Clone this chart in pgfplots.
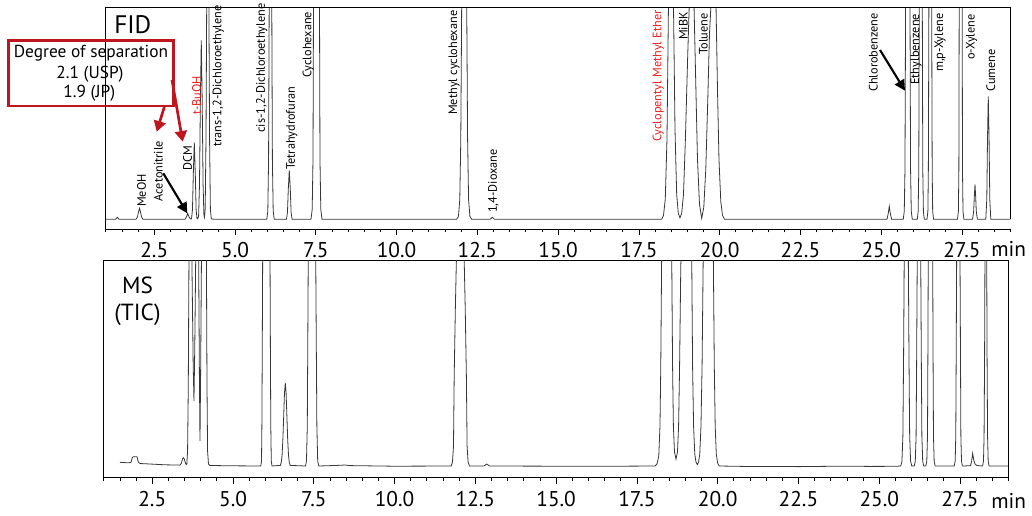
\documentclass[border=0pt]{standalone}
\usepackage{fontspec}
\setmainfont{PT Sans}
\usepackage{pgfplots}
\pgfplotsset{compat=1.18}
\usetikzlibrary{arrows.meta}
\definecolor{trace}{RGB}{55,55,55}
\definecolor{boxred}{RGB}{192,20,30}
\definecolor{lblred}{RGB}{240,30,30}
\newcommand{\lbl}{\fontsize{9.2pt}{9.2pt}\selectfont}
\newcommand{\tlbl}{\fontsize{16pt}{16pt}\selectfont}
\pgfplotsset{chrom/.style={
  scale only axis, width=678.5pt, xmin=1, xmax=29,
  ytick=\empty, xtick={2.5,5,...,27.5}, minor xtick={1,1.5,...,29},
  tick align=outside, xtick pos=left,
  major tick length=4.5pt, minor tick length=2.5pt,
  every tick/.style={black, line width=0.6pt},
  axis line style={line width=0.75pt},
  clip mode=individual,
  xticklabel style={font=\tlbl, yshift=-2pt, /pgf/number format/fixed, /pgf/number format/fixed zerofill, /pgf/number format/precision=1, /pgf/number format/assume math mode=true},
}}
\begin{document}
\begin{tikzpicture}
\useasboundingbox (0,0) rectangle (774pt,-386.25pt);
% ---------- FID ----------
\begin{axis}[chrom, at={(79.35pt,-171.75pt)}, anchor=south west,
  height=166.275pt, ymin=-9.7, ymax=212,
  axis x line*=bottom, axis y line*=left]
\addplot[trace, line width=0.6pt, mark=none] coordinates {
(1.0,0) (1.300,0) (1.356,2) (1.408,0) (1.934,0) (1.981,2.5) (2.012,7.5) (2.043,11) (2.074,7.5) (2.105,2.5) (2.151,0)
(3.451,0) (3.497,2.5) (3.535,6) (3.575,2.5) (3.615,0.5) (3.652,0.3) (3.683,10) (3.708,45) (3.739,77) (3.770,45) (3.795,10) (3.822,1) (3.844,0.5)
(3.872,3) (3.900,35) (3.928,120) (3.955,179) (3.983,120) (4.011,35) (4.036,5) (4.054,2)
(4.076,10) (4.101,80) (4.123,215) (4.157,400) (4.191,215) (4.212,80) (4.237,10) (4.265,0.5) (4.35,0)
(5.983,0) (6.014,8) (6.038,60) (6.057,215) (6.097,500) (6.137,215) (6.156,60) (6.181,8) (6.212,0)
(6.592,0) (6.623,7) (6.648,30) (6.679,49) (6.710,30) (6.735,7) (6.766,0)
(7.351,0) (7.388,10) (7.413,60) (7.428,215) (7.521,700) (7.614,215) (7.629,60) (7.654,10) (7.691,0)
(11.860,0) (11.916,3) (11.956,20) (11.987,80) (12.015,215) (12.092,600) (12.170,215) (12.198,80) (12.228,20) (12.269,3) (12.324,0)
(12.891,0) (12.962,2) (13.030,0)
(18.205,0) (18.261,4) (18.316,20) (18.369,80) (18.415,215) (18.493,350) (18.570,215) (18.617,90) (18.669,25) (18.719,6) (18.771,1.5)
(18.824,6) (18.880,25) (18.939,80) (19.007,160) (19.059,215) (19.133,350) (19.205,215) (19.257,140) (19.313,60) (19.375,15) (19.443,1)
(19.508,12) (19.570,50) (19.632,120) (19.684,185) (19.731,215) (19.808,350) (19.886,215) (19.932,130) (19.978,60) (20.034,18) (20.087,4) (20.149,0)
(25.178,0) (25.218,6) (25.249,13) (25.280,6) (25.321,0)
(25.682,0) (25.713,8) (25.735,50) (25.754,215) (25.822,500) (25.890,215) (25.908,50) (25.930,8) (25.961,0)
(26.116,0) (26.143,8) (26.162,50) (26.178,215) (26.224,500) (26.271,215) (26.286,50) (26.305,8) (26.333,0)
(26.416,0) (26.444,8) (26.459,50) (26.475,215) (26.518,500) (26.561,215) (26.577,50) (26.592,8) (26.620,0)
(27.360,0) (27.388,8) (27.403,50) (27.413,215) (27.459,500) (27.506,215) (27.515,50) (27.531,8) (27.558,0)
(27.827,0) (27.861,8) (27.880,22) (27.902,35) (27.924,22) (27.942,8) (27.976,0)
(28.236,0) (28.267,20) (28.289,80) (28.313,123) (28.338,80) (28.360,20) (28.391,0)
(29.0,0)
};
\draw[line width=0.75pt] (rel axis cs:0,1) -- (rel axis cs:1,1) -- (axis cs:29,0);
\end{axis}
% ---------- MS ----------
\begin{axis}[chrom, at={(77.85pt,-358.275pt)}, anchor=south west,
  height=162.75pt, ymin=-11.7, ymax=205.3]
\addplot[trace, line width=0.6pt, mark=none] coordinates {
(1.501,3.7) (1.749,3.2) (1.842,3.5) (1.882,8.5) (1.919,9.3) (2.027,9.3) (2.067,4) (2.120,2.5) (2.430,2.0) (2.894,1.2) (3.358,0.9)
(3.405,3) (3.435,7) (3.460,8.3) (3.491,7) (3.538,2) (3.569,1.5)
(3.593,15) (3.615,80) (3.637,215) (3.680,300) (3.723,215) (3.767,100) (3.791,65) (3.816,120) (3.847,215) (3.890,300) (3.934,215) (3.959,90) (3.977,25)
(3.996,90) (4.024,215) (4.101,350) (4.175,215) (4.194,80) (4.212,15) (4.240,2) (4.287,0.5) (5.0,0.2)
(5.859,0) (5.881,5) (5.893,40) (5.905,120) (5.918,215) (6.029,400) (6.144,215) (6.156,120) (6.168,40) (6.184,5) (6.206,0)
(6.462,0.6) (6.493,3.6) (6.518,11) (6.543,27) (6.568,50) (6.592,73) (6.617,83) (6.642,73) (6.667,50) (6.691,27) (6.716,11) (6.741,3.6) (6.772,0.6)
(7.242,0) (7.273,5) (7.298,40) (7.313,120) (7.329,215) (7.444,450) (7.558,215) (7.577,120) (7.595,40) (7.620,5) (7.654,0)
(8.310,0.7) (8.465,1) (8.620,0.4) (10.0,-0.2)
(11.752,0) (11.792,4) (11.823,20) (11.845,90) (11.882,160) (11.919,215) (12.034,400) (12.148,215) (12.185,160) (12.222,90) (12.244,20) (12.275,4) (12.318,0)
(12.767,0) (12.851,2) (12.937,0) (16.357,-0.3)
(18.060,0) (18.121,2) (18.177,10) (18.214,40) (18.239,100) (18.267,215) (18.422,400) (18.576,215) (18.604,100) (18.629,40) (18.663,14) (18.710,7)
(18.756,14) (18.790,40) (18.821,100) (18.858,200) (18.873,215) (19.028,400) (19.195,215) (19.223,100) (19.254,40) (19.291,12) (19.328,4) (19.369,1.5)
(19.409,4) (19.446,12) (19.483,40) (19.517,100) (19.554,215) (19.709,400) (19.864,215) (19.895,100) (19.923,40) (19.957,12) (19.997,3) (20.049,0)
(21.000,-0.5) (22.547,-0.6) (23.476,-0.3) (24.095,-0.2) (24.714,-0.4) (25.488,-0.3)
(25.667,0) (25.704,5) (25.732,30) (25.754,110) (25.775,215) (25.837,450) (25.899,215) (25.921,110) (25.942,30) (25.970,5) (26.007,0)
(26.085,0) (26.116,5) (26.141,30) (26.159,110) (26.178,215) (26.230,450) (26.283,215) (26.302,110) (26.320,30) (26.345,5) (26.376,0)
(26.441,0) (26.472,5) (26.494,30) (26.506,110) (26.518,215) (26.586,450) (26.654,215) (26.666,110) (26.679,30) (26.700,5) (26.731,0)
(27.323,0) (27.351,5) (27.369,30) (27.382,110) (27.397,215) (27.447,450) (27.499,215) (27.515,110) (27.527,30) (27.546,5) (27.573,0)
(27.824,0.3) (27.861,5) (27.892,12.7) (27.924,6) (27.964,2) (28.026,0.5)
(28.199,0) (28.227,5) (28.245,30) (28.261,110) (28.273,215) (28.298,450) (28.326,215) (28.338,110) (28.353,30) (28.372,5) (28.400,0)
(29.0,0)
};
\end{axis}
% ---------- annotations (pixel coordinates of the reference) ----------
\begin{scope}[x=0.75pt, y=-0.75pt]
\node[anchor=base west, inner sep=0pt, font=\fontsize{19pt}{19pt}\selectfont] at (114,33) {FID};
\node[anchor=base, inner sep=0pt, font=\fontsize{17.5pt}{17.5pt}\selectfont] at (137.5,293) {MS};
\node[anchor=base, inner sep=0pt, font=\fontsize{17.5pt}{17.5pt}\selectfont] at (137.5,320) {(TIC)};
\node[anchor=base west, inner sep=0pt, font=\tlbl] at (991,256.7) {min};
\node[anchor=base west, inner sep=0pt, font=\tlbl] at (991,508) {min};
\begin{scope}[every node/.style={rotate=90, anchor=west, inner sep=0pt, font=\lbl}]
\node at (141.7,207) {MeOH};
\node at (158.3,201.7) {Acetonitrile};
\node at (187.7,171) {DCM};
\node[text=lblred] at (196.7,115) {t-BuOH};
\node at (218.3,147) {trans-1,2-Dichloroethylene};
\node at (261.7,133) {cis-1,2-Dichloroethylene};
\node at (291.7,170) {Tetrahydrofuran};
\node at (308.3,78) {Cyclohexane};
\node at (454,115) {Methyl cyclohexane};
\node at (493.3,213) {1,4-Dioxane};
\node[text=lblred] at (658.3,142) {Cyclopentyl Methyl Ether};
\node at (683.3,40) {MiBK};
\node at (703.3,55) {Toluene};
\node at (873.3,92) {Chlorobenzene};
\node at (916,85) {Ethylbenzene};
\node at (940,72) {m,p-Xylene};
\node at (971.7,60) {o-Xylene};
\node at (990.7,92) {Cumene};
\end{scope}
\draw[boxred, line width=2pt] (8.3,40.7) rectangle (173.3,106);
\node[anchor=base, inner sep=0pt, font=\fontsize{13pt}{13pt}\selectfont] at (91,57) {Degree of separation};
\node[anchor=base, inner sep=0pt, font=\fontsize{13pt}{13pt}\selectfont] at (90,78) {2.1 (USP)};
\node[anchor=base, inner sep=0pt, font=\fontsize{13pt}{13pt}\selectfont] at (89.3,97) {1.9 (JP)};
\draw[boxred, line width=2pt, -{Triangle[length=8pt,width=9pt]}] (164.3,107) -- (156.7,131.7);
\draw[boxred, line width=2pt, -{Triangle[length=8pt,width=9pt]}] (172,80) -- (182.7,141.7);
\draw[black, line width=1.6pt, -{Triangle[length=8pt,width=8pt]}] (163.3,173.3) -- (187.3,213.3);
\draw[black, line width=1.6pt, -{Triangle[length=8pt,width=8pt]}] (880,50) -- (905,90.7);
\end{scope}
\end{tikzpicture}
\end{document}
